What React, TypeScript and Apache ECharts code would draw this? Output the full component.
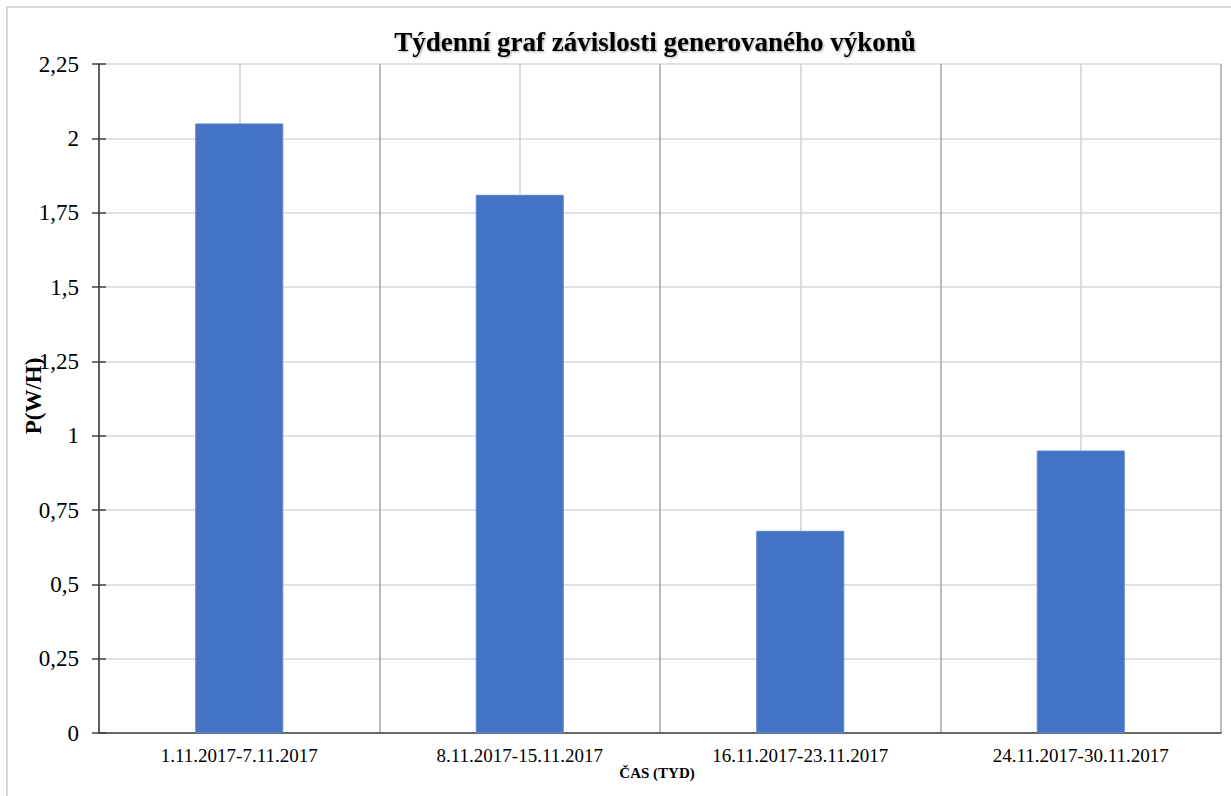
import React, { useEffect, useRef } from "react";
import * as echarts from "echarts";

const categories = [
  "1.11.2017-7.11.2017",
  "8.11.2017-15.11.2017",
  "16.11.2017-23.11.2017",
  "24.11.2017-30.11.2017",
];
const values = [2.05, 1.81, 0.68, 0.95];
const titleText = "Týdenní graf závislosti generovaného výkonů";
const yName = "P(W/H)";
const xName = "ČAS (TYD)";

const FONT = "'Liberation Serif', 'Times New Roman', serif";

export default function App() {
  const ref = useRef<HTMLDivElement>(null);
  useEffect(() => {
    if (!ref.current) return;
    const chart = echarts.init(ref.current, undefined, { renderer: "svg" });
    chart.setOption({
      animation: false,
      backgroundColor: "#ffffff",
      textStyle: { fontFamily: FONT },
      grid: { left: 99, right: 10, top: 64, bottom: 63 },
      graphic: [
        {
          type: "rect",
          z: -10,
          shape: { x: 7, y: 7, width: 1260, height: 820 },
          style: { fill: "none", stroke: "#d9d9d9", lineWidth: 2 },
        },
        {
          type: "text",
          x: 655,
          y: 42,
          style: {
            text: titleText,
            fontFamily: FONT,
            fontWeight: "bold",
            fontSize: 27,
            fill: "#000",
            textAlign: "center",
            textVerticalAlign: "middle",
            textShadowColor: "rgba(0,0,0,0.35)",
            textShadowBlur: 2,
            textShadowOffsetX: 1,
            textShadowOffsetY: 1,
          },
        },
        {
          type: "text",
          x: 33,
          y: 396,
          rotation: Math.PI / 2,
          style: {
            text: yName,
            fontFamily: FONT,
            fontWeight: "bold",
            fontSize: 23,
            fill: "#000",
            textAlign: "center",
            textVerticalAlign: "middle",
          },
        },
        {
          type: "text",
          x: 657,
          y: 773,
          style: {
            text: xName,
            fontFamily: FONT,
            fontWeight: "bold",
            fontSize: 15,
            fill: "#000",
            textAlign: "center",
            textVerticalAlign: "middle",
          },
        },
      ],
      xAxis: [
        {
          type: "category",
          data: categories,
          axisLine: { show: true, lineStyle: { color: "#404040", width: 1.5 } },
          axisTick: { show: false },
          axisLabel: { color: "#000", fontFamily: FONT, fontSize: 19, margin: 13 },
          splitLine: { show: true, lineStyle: { color: "#a6a6a6", width: 1.5 } },
        },
        {
          type: "value",
          min: 0,
          max: 4,
          interval: 1,
          show: true,
          axisLine: { show: false },
          axisTick: { show: false },
          axisLabel: { show: false },
          splitLine: { show: false },
          minorTick: { show: false, splitNumber: 2 },
          minorSplitLine: { show: true, lineStyle: { color: "#d0d0d0", width: 1.5 } },
        },
      ],
      yAxis: [
        {
          type: "value",
          min: 0,
          max: 2.25,
          interval: 0.25,
          axisLine: { show: true, lineStyle: { color: "#404040", width: 1.5 } },
          axisTick: { show: true, length: 7, lineStyle: { color: "#404040", width: 1.5 } },
          axisLabel: {
            color: "#000",
            fontFamily: FONT,
            fontSize: 23,
            margin: 20,
            formatter: (v: number) => String(v).replace(".", ","),
          },
          splitLine: { show: true, lineStyle: { color: "#d9d9d9", width: 1.5 } },
        },
        {
          type: "value",
          min: 0,
          max: 2.25,
          interval: 0.25,
          position: "left",
          offset: 0,
          axisLine: { show: false },
          axisTick: { show: true, inside: true, length: 7, lineStyle: { color: "#404040", width: 1.5 } },
          axisLabel: { show: false },
          splitLine: { show: false },
        },
      ],
      series: [
        {
          type: "bar",
          xAxisIndex: 0,
          yAxisIndex: 0,
          data: values,
          barWidth: 88,
          itemStyle: { color: "#4472c4", borderColor: "#5b85d0", borderWidth: 1 },
        },
      ],
    });
    return () => chart.dispose();
  }, []);
  return (
    <div
      ref={ref}
      style={{ position: "absolute", left: 0, top: 0, width: 1231, height: 796 }}
    />
  );
}
